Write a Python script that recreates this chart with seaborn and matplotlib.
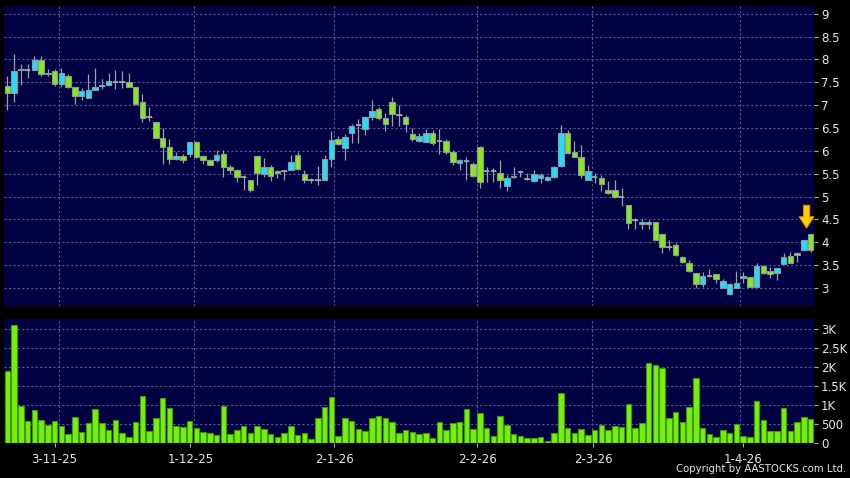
import numpy as np
import pandas as pd
import matplotlib
matplotlib.use("Agg")
import matplotlib.pyplot as plt
from matplotlib.patches import FancyArrow
import seaborn as sns

# ---------------- data ----------------
opens = [7.41, 7.27, 7.80, 7.77, 7.76, 7.99, 7.71, 7.75, 7.47, 7.64,
         7.40, 7.21, 7.16, 7.34, 7.41, 7.44, 7.50, 7.50, 7.50, 7.40,
         7.06, 6.74, 6.63, 6.29, 6.09, 5.83, 5.88, 5.93, 6.20, 5.88,
         5.81, 5.81, 5.94, 5.65, 5.59, 5.42, 5.37, 5.89, 5.50, 5.65,
         5.56, 5.55, 5.59, 5.90, 5.50, 5.37, 5.37, 5.37, 5.83, 6.27,
         6.07, 6.40, 6.56, 6.49, 6.74, 6.91, 6.71, 7.07, 6.78, 6.74,
         6.38, 6.22, 6.20, 6.40, 6.21, 6.22, 5.98, 5.74, 5.79, 5.72,
         6.09, 5.57, 5.57, 5.51, 5.24, 5.45, 5.53, 5.38, 5.34, 5.40,
         5.37, 5.42, 5.68, 6.40, 5.97, 5.86, 5.37, 5.42, 5.40, 5.14,
         5.14, 5.00, 4.81, 4.49, 4.41, 4.41, 4.45, 4.19, 3.90, 3.95,
         3.67, 3.54, 3.32, 3.08, 3.27, 3.30, 3.01, 2.86, 3.01, 3.21,
         3.25, 3.03, 3.49, 3.38, 3.33, 3.52, 3.70, 3.77, 3.84, 4.19]
highs = [7.63, 8.11, 7.91, 7.91, 8.07, 8.07, 7.80, 7.80, 7.82, 7.69,
         7.40, 7.38, 7.68, 7.82, 7.58, 7.71, 7.76, 7.75, 7.71, 7.40,
         7.25, 6.95, 6.63, 6.51, 6.25, 5.98, 5.93, 6.20, 6.22, 5.90,
         5.83, 6.02, 6.02, 5.69, 5.61, 5.47, 5.37, 5.89, 5.85, 5.69,
         5.58, 5.58, 5.90, 5.97, 5.59, 5.40, 5.67, 5.91, 6.44, 6.32,
         6.38, 6.58, 6.69, 6.76, 7.11, 6.96, 6.83, 7.17, 7.00, 6.78,
         6.51, 6.39, 6.47, 6.45, 6.47, 6.25, 6.02, 5.83, 5.87, 5.76,
         6.10, 5.64, 5.62, 5.80, 5.47, 5.64, 5.58, 5.52, 5.58, 5.51,
         5.45, 5.67, 6.56, 6.45, 6.22, 6.13, 5.69, 5.51, 5.47, 5.34,
         5.37, 5.18, 4.81, 4.54, 4.52, 4.48, 4.45, 4.19, 4.06, 3.99,
         3.70, 3.62, 3.32, 3.35, 3.41, 3.30, 3.19, 3.10, 3.38, 3.35,
         3.25, 3.54, 3.50, 3.46, 3.43, 3.77, 3.79, 3.79, 4.06, 4.19]
lows = [6.89, 7.07, 7.44, 7.60, 7.76, 7.63, 7.63, 7.41, 7.40, 7.38,
        7.02, 7.12, 7.16, 7.34, 7.36, 7.44, 7.36, 7.38, 7.40, 7.00,
        6.63, 6.66, 6.29, 5.72, 5.71, 5.80, 5.74, 5.87, 5.85, 5.72,
        5.69, 5.76, 5.43, 5.49, 5.32, 5.14, 5.10, 5.25, 5.42, 5.34,
        5.41, 5.37, 5.58, 5.58, 5.29, 5.29, 5.25, 5.36, 5.64, 6.14,
        5.80, 6.18, 6.18, 6.34, 6.67, 6.67, 6.44, 6.54, 6.54, 6.42,
        6.22, 6.20, 6.20, 6.12, 5.94, 5.94, 5.69, 5.59, 5.37, 5.44,
        5.19, 5.32, 5.32, 5.19, 5.13, 5.40, 5.42, 5.37, 5.32, 5.29,
        5.35, 5.40, 5.65, 5.94, 5.86, 5.40, 5.37, 5.30, 5.13, 5.05,
        4.96, 4.79, 4.29, 4.29, 4.30, 4.30, 4.04, 3.76, 3.83, 3.71,
        3.55, 3.35, 3.00, 3.03, 3.25, 3.10, 2.99, 2.85, 2.99, 3.10,
        3.02, 3.03, 3.30, 3.23, 3.17, 3.52, 3.55, 3.57, 3.81, 3.79]
closes = [7.27, 7.75, 7.77, 7.77, 7.99, 7.68, 7.68, 7.47, 7.71, 7.40,
          7.21, 7.30, 7.33, 7.39, 7.41, 7.52, 7.50, 7.50, 7.40, 7.02,
          6.71, 6.74, 6.29, 6.09, 5.83, 5.88, 5.80, 6.20, 5.87, 5.81,
          5.70, 5.92, 5.64, 5.59, 5.42, 5.42, 5.15, 5.52, 5.65, 5.45,
          5.51, 5.55, 5.76, 5.61, 5.37, 5.37, 5.37, 5.83, 6.23, 6.16,
          6.31, 6.54, 6.56, 6.74, 6.88, 6.71, 6.58, 6.80, 6.78, 6.58,
          6.27, 6.33, 6.40, 6.18, 6.21, 5.98, 5.75, 5.81, 5.79, 5.46,
          5.31, 5.57, 5.57, 5.36, 5.40, 5.42, 5.53, 5.38, 5.49, 5.47,
          5.43, 5.64, 6.40, 5.96, 5.86, 5.48, 5.56, 5.42, 5.27, 5.07,
          4.99, 5.00, 4.43, 4.49, 4.45, 4.45, 4.06, 3.90, 3.90, 3.72,
          3.58, 3.38, 3.08, 3.26, 3.27, 3.19, 3.16, 3.08, 3.10, 3.27,
          3.03, 3.49, 3.32, 3.30, 3.43, 3.67, 3.55, 3.73, 4.05, 3.84]
volumes = [1894, 3103, 973, 587, 868, 605, 482, 587, 456, 237,
           675, 281, 526, 886, 517, 333, 614, 254, 158, 544,
           1245, 324, 649, 1192, 929, 456, 421, 570, 386, 298,
           272, 210, 973, 228, 333, 456, 263, 447, 377, 228,
           158, 250, 447, 210, 254, 114, 666, 938, 1210, 184,
           666, 579, 360, 307, 649, 710, 666, 552, 254, 333,
           289, 245, 263, 123, 544, 342, 517, 561, 903, 368,
           798, 386, 193, 719, 465, 237, 184, 140, 140, 158,
           44, 272, 1306, 386, 254, 377, 210, 342, 465, 333,
           447, 421, 1017, 394, 535, 2112, 2043, 1973, 666, 815,
           552, 955, 1701, 403, 245, 167, 351, 272, 508, 184,
           158, 1105, 614, 307, 316, 921, 307, 561, 675, 623]
date_labels = ["3-11-25", "1-12-25", "2-1-26", "2-2-26", "2-3-26", "1-4-26"]
date_tick_pos = [7.0, 27.1, 48.4, 69.6, 86.8, 109.0]
date_grid_pos = [7.6, 27.6, 48.4, 69.5, 86.6, 108.6]
price_ticks = [3, 3.5, 4, 4.5, 5, 5.5, 6, 6.5, 7, 7.5, 8, 8.5, 9]
price_tick_labels = ["3", "3.5", "4", "4.5", "5", "5.5", "6", "6.5", "7", "7.5", "8", "8.5", "9"]
vol_ticks = [0, 500, 1000, 1500, 2000, 2500, 3000]
vol_tick_labels = ["0", "500", "1K", "1.5K", "2K", "2.5K", "3K"]
arrow_index = 118.4
arrow_top, arrow_bottom = 4.81, 4.31

# ---------------- style ----------------
sns.set_style("dark")
plt.rcParams["font.family"] = ["DejaVu Sans"]

NAVY = "#000042"
UP = "#22ddff"
DOWN = "#88e81e"
EDGE = "#8a9a96"
WICK = "#a0a0a0"
GRID = "#5a5a9a"
TXT = "#e8e8e8"

df = pd.DataFrame({"idx": np.arange(len(opens)), "open": opens, "high": highs,
                   "low": lows, "close": closes, "volume": volumes})

fig = plt.figure(figsize=(8.5, 4.78), dpi=100, facecolor="black")
axp = fig.add_axes([4/850, 1-306/478, 810/850, 300/478])
axv = fig.add_axes([4/850, 1-443/478, 810/850, 124/478], sharex=axp)

for ax in (axp, axv):
    ax.set_facecolor(NAVY)
    for s in ax.spines.values():
        s.set_visible(False)
    ax.yaxis.tick_right()
    ax.tick_params(axis="y", colors=TXT, labelsize=8.5, length=3, width=0.8,
                   pad=2, color="#b0b0b0")
    for gx in date_grid_pos:
        ax.axvline(gx, color=GRID, lw=0.8, ls=(0, (2, 2)), zorder=0.5)

# price grid
for py in price_ticks:
    axp.axhline(py, color=GRID, lw=0.8, ls=(0, (2, 2)), zorder=0.5)
for vy in vol_ticks[1:]:
    axv.axhline(vy, color=GRID, lw=0.8, ls=(0, (2, 2)), zorder=0.5)

# candles
up = df["close"] >= df["open"]
colors = np.where(up, UP, DOWN)
body_lo = np.minimum(df["open"], df["close"])
body_h = np.abs(df["close"] - df["open"])
axp.vlines(df["idx"], df["low"], df["high"], color=WICK, lw=0.9, zorder=2)
axp.bar(df["idx"], body_h, bottom=body_lo, width=0.78, color=colors,
        edgecolor=EDGE, linewidth=0.8, zorder=3)
doji = body_h < 0.015
axp.hlines(df.loc[doji, "open"], df.loc[doji, "idx"] - 0.42, df.loc[doji, "idx"] + 0.42,
           color="#9aaab0", lw=1.2, zorder=3)

axp.set_ylim(2.607, 9.17)
axp.set_yticks(price_ticks)
axp.set_yticklabels(price_tick_labels)
axp.tick_params(axis="x", bottom=False, labelbottom=False)

arr = FancyArrow(arrow_index, arrow_top, 0, -(arrow_top - arrow_bottom), width=0.9,
                 head_width=2.2, head_length=0.25, length_includes_head=True,
                 facecolor="#ffcc00", edgecolor="#e08a00", linewidth=0.8, zorder=5)
axp.add_patch(arr)

# volume
sns.barplot(data=df, x="idx", y="volume", native_scale=True, color="#77ee11",
            saturation=1, width=0.8, edgecolor="#3f9a00", linewidth=0.8, ax=axv, zorder=2)
axv.set_ylim(0, 3261)
axv.set_yticks(vol_ticks)
axv.set_yticklabels(vol_tick_labels)
axv.set_xlabel("")
axv.set_ylabel("")
axv.set_xlim(-0.5, 119.5)
axv.set_xticks(date_tick_pos)
axv.set_xticklabels(date_labels)
axv.tick_params(axis="x", colors=TXT, labelsize=8.5, length=3, width=0.8,
                pad=4, color="#b0b0b0", bottom=True)

fig.text(0.995, 0.008, "Copyright by AASTOCKS.com Ltd.", color=TXT, fontsize=7.3,
         ha="right", va="bottom")

fig.savefig("out.png", dpi=100, facecolor="black")
